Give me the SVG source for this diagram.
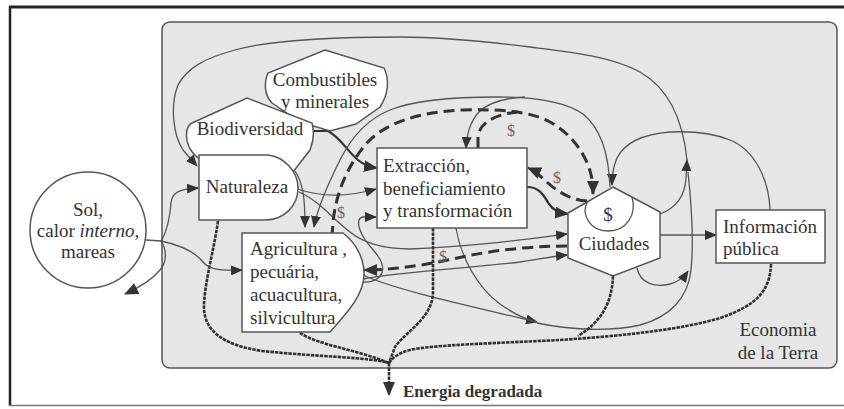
<svg xmlns="http://www.w3.org/2000/svg" width="844" height="409" viewBox="0 0 844 409">
<style>
.t{font-family:"Liberation Serif","Times New Roman",serif;font-size:19px;fill:#333}
.d{font-family:"Liberation Serif","Times New Roman",serif;font-size:16px;fill:#666}
.n{fill:#fff;stroke:#555;stroke-width:1.5}
.c{fill:none;stroke:#555;stroke-width:1.3}
.k{fill:none;stroke:#333;stroke-width:2.2}
.m{fill:none;stroke:#333;stroke-width:3;stroke-dasharray:11 6}
.h{fill:none;stroke:#333;stroke-width:2.6;stroke-dasharray:3.5 1}
</style>
<defs>
<marker id="a" viewBox="0 0 12 10" refX="11" refY="5" markerWidth="12" markerHeight="10" orient="auto" markerUnits="userSpaceOnUse">
<path d="M0,0 L12,5 L0,10 Z" fill="#333"/>
</marker>
<marker id="b" viewBox="0 0 14 12" refX="13" refY="6" markerWidth="14" markerHeight="12" orient="auto" markerUnits="userSpaceOnUse">
<path d="M0,0 L14,6 L0,12 Z" fill="#333"/>
</marker>
</defs>
<rect width="844" height="409" fill="#fff"/>
<g id="frame">
<line x1="9" y1="7" x2="844" y2="7" stroke="#222" stroke-width="3"/>
<line x1="10" y1="6" x2="10" y2="406" stroke="#222" stroke-width="2.5"/>
<line x1="9" y1="405.5" x2="844" y2="405.5" stroke="#777" stroke-width="1.5"/>
</g>
<g id="panel">
<rect x="162" y="22" width="675" height="346" rx="8" fill="#e6e6e6" stroke="#555" stroke-width="1.5"/>
<text class="t" x="778" y="336" text-anchor="middle">Economia</text>
<text class="t" x="778" y="359" text-anchor="middle">de la Terra</text>
</g>
<g id="connectors">
<path class="c" d="M660,214 C676,208 685,196 686,178 L687,160" marker-end="url(#a)"/>
<path class="c" d="M537,323 C570,330 610,332 640,325 C670,317 688,298 691,270 C694,240 691,200 688,172"/>
<path class="c" d="M687,160 C683,120 668,88 640,72 C610,56 570,52 530,47 C490,42 440,37 400,37 C340,37 270,40 235,50 C205,58 187,68 178,85 C170,105 173,135 183,150 L197,166" marker-end="url(#a)"/>
<path class="c" d="M770,210 C769,180 755,150 730,140 C710,132 690,131 670,132 C645,134 625,142 617,158 C613,167 612,175 612,185" marker-end="url(#a)"/>
<path class="c" d="M660,235 L716,235" marker-end="url(#a)"/>
<path class="c" d="M637,268 C640,283 655,288 670,284 C678,282 684,277 688,271" marker-end="url(#a)"/>
<path class="c" d="M297,189 C318,196 345,198 376,189" marker-end="url(#a)"/>
<path class="c" d="M299,192 C318,200 332,218 350,232 C365,244 385,249 410,249 C470,247 520,240 567,234" marker-end="url(#a)"/>
<path class="c" d="M363,279 C400,272 470,268 520,262 C540,259 555,256 567,255" marker-end="url(#a)"/>
<path class="c" d="M362,282 C377,283 385,275 382,264 C379,254 370,248 364,238 C358,228 356,218 363,217 L376,217" marker-end="url(#a)"/>
<path class="c" d="M363,275 C395,290 470,306 537,322" marker-end="url(#a)"/>
<path class="c" d="M456,228 C461,258 478,288 500,304 C514,314 524,319 536,322"/>
<path class="k" d="M313,131 L328,131 C340,137 348,152 358,160 C364,165 370,167 377,168" marker-end="url(#b)"/>
<path class="k" d="M527,187 C540,187 544,196 549,204 C554,211 559,213 568,214" marker-end="url(#b)"/>
<path class="c" d="M295,171 C304,184 305,203 305,227" marker-end="url(#a)"/>
<path class="c" d="M610,187 C609,160 603,130 583,114 C563,100 530,97 497,97 C455,97 415,100 390,110 C365,120 350,140 340,160 C330,180 318,205 314,227" marker-end="url(#a)"/>
<path class="c" d="M525,97 C505,98 488,103 479,112 C470,122 467,133 466,148" marker-end="url(#a)"/>
<path class="m" d="M332,237 L333,222 C336,195 345,170 365,145 C385,122 420,112 463,110 C500,109 530,111 550,122 C570,133 582,150 588,165 C592,175 593,184 593,194" marker-end="url(#b)"/>
<path class="m" d="M478,148 L478,136 C480,124 492,115 517,112"/>
<path class="m" d="M587,201 C571,200 558,192 548,183 C540,176 535,171 528,168" marker-end="url(#b)"/>
<path class="m" d="M567,246 C540,246 500,249 467,256 C435,263 400,270 364,270" marker-end="url(#b)"/>
<path class="h" d="M218,221 C214,250 205,280 204,305 C203,330 222,345 262,351 C320,357 368,357 389,363"/>
<path class="h" d="M300,333 C318,345 358,350 389,363"/>
<path class="h" d="M433,228 L433,292 C433,318 405,332 395,347 L389,363"/>
<path class="h" d="M613,276 C612,300 604,320 578,336"/>
<path class="h" d="M771,264 C770,290 758,305 720,318 C680,330 620,336 560,340 C500,343 430,345 410,350 C399,353 393,357 389,363"/>
<path class="h" d="M389,363 L389,395" marker-end="url(#b)"/>
<path class="c" d="M146,240 L161,241"/>
<path class="c" d="M161,241 C168,230 170,215 171,203 C172,193 178,189 198,188" marker-end="url(#a)"/>
<path class="c" d="M161,241 C180,245 195,252 203,262 C208,268 215,271 242,270" marker-end="url(#a)"/>
<path class="c" d="M161,241 C167,250 167,262 160,270 C152,280 140,287 125,294" marker-end="url(#b)"/>
<text class="d" x="341" y="218" text-anchor="middle">$</text>
<text class="d" x="511" y="136" text-anchor="middle">$</text>
<text class="d" x="557" y="183" text-anchor="middle">$</text>
<text class="d" x="443" y="262" text-anchor="middle">$</text>
</g>
<g id="sol">
<circle class="n" cx="88" cy="230" r="58"/>
<text class="t" x="88" y="216" text-anchor="middle">Sol,</text>
<text class="t" x="88" y="237" text-anchor="middle">calor <tspan font-style="italic">interno</tspan>,</text>
<text class="t" x="88" y="258" text-anchor="middle">mareas</text>
</g>
<g id="combustibles">
<path class="n" d="M325,50 L384,68 C390,80 388,95 380,107 L356,124 L330,131 L300,122 L272,103 C264,95 264,82 268,73 Z"/>
<text class="t" x="325" y="86" text-anchor="middle">Combustibles</text>
<text class="t" x="325" y="108" text-anchor="middle">y minerales</text>
</g>
<g id="biodiversidad">
<path class="n" d="M197,157 C189,150 185,140 187,130 C188,126 190,124 192,123 L247,98 L312,123 C314,130 314,140 310,150 L293,172 L230,172 Z"/>
<text class="t" x="250" y="135" text-anchor="middle">Biodiversidad</text>
</g>
<g id="naturaleza">
<path class="n" d="M199,155 H268 C285,157 298,172 298,188 C298,205 285,220 265,220 H199 Z"/>
<text class="t" x="247" y="193" text-anchor="middle">Naturaleza</text>
</g>
<g id="extraccion">
<rect class="n" x="377" y="148" width="150" height="80"/>
<text class="t" x="383" y="172">Extracción,</text>
<text class="t" x="383" y="195">beneficiamiento</text>
<text class="t" x="383" y="217">y transformación</text>
</g>
<g id="agricultura">
<path class="n" d="M242,233 H343 C356,243 364,258 364,274 C364,296 345,315 330,332 H242 Z"/>
<text class="t" x="250" y="255">Agricultura ,</text>
<text class="t" x="250" y="278">pecuária,</text>
<text class="t" x="250" y="301">acuacultura,</text>
<text class="t" x="250" y="324">silvicultura</text>
</g>
<g id="ciudades">
<polygon class="n" points="613,187 660,212 660,258 613,276 568,258 568,213"/>
<path class="c" d="M588,201 C580,214 590,231 608,231 C627,231 637,214 632,197"/>
<text class="t" x="608" y="221" text-anchor="middle" font-size="17">$</text>
<text class="t" x="614" y="250" text-anchor="middle">Ciudades</text>
</g>
<g id="informacion">
<rect class="n" x="716" y="210" width="109" height="53"/>
<text class="t" x="723" y="233">Información</text>
<text class="t" x="723" y="255">pública</text>
</g>
<g id="energia">
<text x="403" y="397" font-family="Liberation Serif,serif" font-size="17" font-weight="bold" fill="#333">Energia degradada</text>
</g>
</svg>
